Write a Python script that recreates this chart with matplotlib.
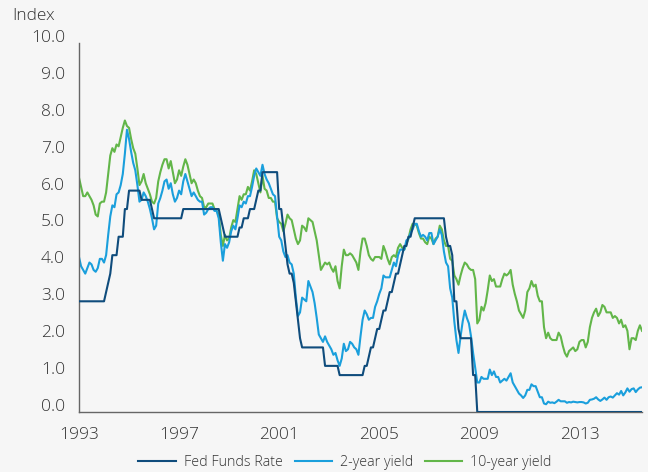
import matplotlib
matplotlib.use("Agg")
import matplotlib.pyplot as plt
import matplotlib.transforms as mtransforms
import numpy as np

# monthly values, Jan 1993 - Jul 2015
fed_funds = [
    3.00, 3.00, 3.00, 3.00, 3.00, 3.00, 3.00, 3.00, 3.00, 3.00, 3.00, 3.00,  # 1993
    3.00, 3.25, 3.50, 3.75, 4.25, 4.25, 4.25, 4.75, 4.75, 4.75, 5.50, 5.50,  # 1994
    6.00, 6.00, 6.00, 6.00, 6.00, 6.00, 5.75, 5.75, 5.75, 5.75, 5.75, 5.50,  # 1995
    5.25, 5.25, 5.25, 5.25, 5.25, 5.25, 5.25, 5.25, 5.25, 5.25, 5.25, 5.25,  # 1996
    5.25, 5.25, 5.50, 5.50, 5.50, 5.50, 5.50, 5.50, 5.50, 5.50, 5.50, 5.50,  # 1997
    5.50, 5.50, 5.50, 5.50, 5.50, 5.50, 5.50, 5.50, 5.25, 5.00, 4.75, 4.75,  # 1998
    4.75, 4.75, 4.75, 4.75, 4.75, 5.00, 5.00, 5.25, 5.25, 5.25, 5.50, 5.50,  # 1999
    5.50, 5.75, 6.00, 6.00, 6.50, 6.50, 6.50, 6.50, 6.50, 6.50, 6.50, 6.50,  # 2000
    5.50, 5.50, 5.00, 4.50, 4.00, 3.75, 3.75, 3.50, 3.00, 2.50, 2.00, 1.75,  # 2001
    1.75, 1.75, 1.75, 1.75, 1.75, 1.75, 1.75, 1.75, 1.75, 1.75, 1.25, 1.25,  # 2002
    1.25, 1.25, 1.25, 1.25, 1.25, 1.00, 1.00, 1.00, 1.00, 1.00, 1.00, 1.00,  # 2003
    1.00, 1.00, 1.00, 1.00, 1.00, 1.25, 1.25, 1.50, 1.75, 1.75, 2.00, 2.25,  # 2004
    2.25, 2.50, 2.75, 2.75, 3.00, 3.25, 3.25, 3.50, 3.75, 3.75, 4.00, 4.25,  # 2005
    4.50, 4.50, 4.75, 4.75, 5.00, 5.25, 5.25, 5.25, 5.25, 5.25, 5.25, 5.25,  # 2006
    5.25, 5.25, 5.25, 5.25, 5.25, 5.25, 5.25, 5.25, 4.75, 4.50, 4.50, 4.25,  # 2007
    3.00, 3.00, 2.25, 2.00, 2.00, 2.00, 2.00, 2.00, 2.00, 1.00, 1.00, 0.00,  # 2008
    0.00, 0.00, 0.00, 0.00, 0.00, 0.00, 0.00, 0.00, 0.00, 0.00, 0.00, 0.00,  # 2009
    0.00, 0.00, 0.00, 0.00, 0.00, 0.00, 0.00, 0.00, 0.00, 0.00, 0.00, 0.00,  # 2010
    0.00, 0.00, 0.00, 0.00, 0.00, 0.00, 0.00, 0.00, 0.00, 0.00, 0.00, 0.00,  # 2011
    0.00, 0.00, 0.00, 0.00, 0.00, 0.00, 0.00, 0.00, 0.00, 0.00, 0.00, 0.00,  # 2012
    0.00, 0.00, 0.00, 0.00, 0.00, 0.00, 0.00, 0.00, 0.00, 0.00, 0.00, 0.00,  # 2013
    0.00, 0.00, 0.00, 0.00, 0.00, 0.00, 0.00, 0.00, 0.00, 0.00, 0.00, 0.00,  # 2014
    0.00, 0.00, 0.00, 0.00, 0.00, 0.00, 0.00,                                # 2015
]

yield_2y = [
    4.20, 3.95, 3.85, 3.75, 3.90, 4.05, 4.00, 3.85, 3.80, 3.90, 4.15, 4.15,  # 1993
    4.05, 4.25, 4.80, 5.30, 5.60, 5.55, 5.90, 5.95, 6.15, 6.45, 7.00, 7.65,  # 1994
    7.40, 7.05, 6.75, 6.55, 6.15, 5.70, 5.75, 5.95, 5.85, 5.70, 5.50, 5.25,  # 1995
    4.95, 5.05, 5.65, 5.80, 6.00, 6.25, 6.30, 6.05, 6.20, 5.90, 5.70, 5.80,  # 1996
    6.00, 5.90, 6.25, 6.45, 6.25, 6.05, 5.85, 5.95, 5.85, 5.75, 5.70, 5.70,  # 1997
    5.35, 5.40, 5.50, 5.55, 5.55, 5.45, 5.45, 5.25, 4.60, 4.10, 4.55, 4.45,  # 1998
    4.60, 4.90, 5.05, 4.95, 5.25, 5.60, 5.55, 5.70, 5.65, 5.85, 5.85, 6.10,  # 1999
    6.40, 6.60, 6.50, 6.40, 6.70, 6.45, 6.30, 6.20, 6.05, 5.90, 5.85, 5.30,  # 2000
    4.75, 4.65, 4.35, 4.20, 4.25, 4.05, 4.00, 3.75, 3.10, 2.60, 2.70, 3.10,  # 2001
    3.05, 3.00, 3.55, 3.40, 3.25, 2.95, 2.55, 2.10, 2.00, 1.90, 2.05, 1.90,  # 2002
    1.80, 1.70, 1.55, 1.60, 1.40, 1.25, 1.45, 1.85, 1.65, 1.70, 1.90, 1.85,  # 2003
    1.75, 1.70, 1.55, 2.05, 2.50, 2.75, 2.65, 2.50, 2.55, 2.55, 2.85, 3.00,  # 2004
    3.20, 3.35, 3.70, 3.65, 3.65, 3.65, 3.85, 4.05, 3.95, 4.25, 4.40, 4.40,  # 2005
    4.40, 4.65, 4.70, 4.85, 4.95, 5.10, 5.10, 4.90, 4.75, 4.80, 4.75, 4.65,  # 2006
    4.85, 4.85, 4.55, 4.65, 4.75, 4.95, 4.80, 4.35, 4.05, 3.95, 3.35, 3.10,  # 2007
    2.45, 1.95, 1.60, 2.05, 2.45, 2.75, 2.55, 2.40, 2.05, 1.60, 1.20, 0.80,  # 2008
    0.80, 0.95, 0.90, 0.90, 0.90, 1.15, 1.00, 1.10, 0.95, 0.95, 0.80, 0.85,  # 2009
    0.90, 0.85, 0.95, 1.05, 0.80, 0.70, 0.60, 0.50, 0.45, 0.38, 0.45, 0.60,  # 2010
    0.60, 0.75, 0.70, 0.70, 0.55, 0.40, 0.40, 0.23, 0.21, 0.28, 0.25, 0.26,  # 2011
    0.24, 0.28, 0.33, 0.29, 0.29, 0.29, 0.25, 0.27, 0.26, 0.28, 0.27, 0.26,  # 2012
    0.27, 0.27, 0.26, 0.23, 0.25, 0.33, 0.34, 0.36, 0.40, 0.34, 0.30, 0.34,  # 2013
    0.39, 0.33, 0.40, 0.42, 0.39, 0.45, 0.51, 0.47, 0.57, 0.45, 0.53, 0.64,  # 2014
    0.55, 0.62, 0.64, 0.54, 0.61, 0.66, 0.67,                                # 2015
]

yield_10y = [
    6.35, 6.10, 5.85, 5.85, 5.95, 5.85, 5.75, 5.60, 5.35, 5.30, 5.65, 5.70,  # 1993
    5.70, 5.95, 6.45, 6.95, 7.15, 7.05, 7.25, 7.20, 7.45, 7.70, 7.90, 7.75,  # 1994
    7.70, 7.40, 7.15, 7.00, 6.60, 6.15, 6.25, 6.45, 6.20, 6.05, 5.90, 5.70,  # 1995
    5.65, 5.80, 6.25, 6.50, 6.70, 6.85, 6.85, 6.60, 6.80, 6.50, 6.20, 6.30,  # 1996
    6.55, 6.40, 6.65, 6.85, 6.70, 6.45, 6.20, 6.30, 6.20, 6.00, 5.85, 5.80,  # 1997
    5.55, 5.55, 5.65, 5.65, 5.65, 5.50, 5.45, 5.35, 4.80, 4.50, 4.80, 4.65,  # 1998
    4.70, 5.00, 5.20, 5.15, 5.50, 5.85, 5.75, 5.90, 5.90, 6.10, 6.00, 6.25,  # 1999
    6.55, 6.45, 6.20, 5.95, 6.40, 6.05, 6.00, 5.80, 5.80, 5.70, 5.70, 5.25,  # 2000
    5.15, 5.10, 4.90, 5.10, 5.35, 5.25, 5.20, 4.95, 4.70, 4.55, 4.65, 5.05,  # 2001
    5.00, 4.90, 5.25, 5.20, 5.15, 4.90, 4.65, 4.25, 3.85, 3.95, 4.05, 4.00,  # 2002
    4.05, 3.90, 3.80, 3.95, 3.55, 3.35, 3.95, 4.40, 4.25, 4.25, 4.30, 4.25,  # 2003
    4.15, 4.05, 3.85, 4.35, 4.70, 4.70, 4.50, 4.25, 4.15, 4.10, 4.20, 4.20,  # 2004
    4.20, 4.15, 4.50, 4.35, 4.15, 4.00, 4.20, 4.25, 4.20, 4.45, 4.55, 4.45,  # 2005
    4.40, 4.55, 4.70, 4.95, 5.10, 5.10, 5.05, 4.85, 4.70, 4.70, 4.60, 4.55,  # 2006
    4.75, 4.70, 4.55, 4.70, 4.75, 5.05, 4.95, 4.65, 4.50, 4.50, 4.15, 4.10,  # 2007
    3.70, 3.60, 3.45, 3.70, 3.90, 4.05, 4.00, 3.90, 3.85, 3.85, 3.60, 2.40,  # 2008
    2.50, 2.85, 2.75, 2.95, 3.30, 3.70, 3.55, 3.60, 3.40, 3.40, 3.40, 3.60,  # 2009
    3.75, 3.70, 3.75, 3.85, 3.45, 3.20, 3.00, 2.75, 2.65, 2.55, 2.75, 3.25,  # 2010
    3.35, 3.55, 3.40, 3.45, 3.15, 3.00, 3.00, 2.30, 2.00, 2.15, 2.00, 1.95,  # 2011
    1.95, 1.95, 2.15, 2.05, 1.80, 1.60, 1.50, 1.65, 1.70, 1.75, 1.65, 1.70,  # 2012
    1.90, 1.95, 1.95, 1.75, 1.90, 2.30, 2.55, 2.70, 2.80, 2.60, 2.70, 2.90,  # 2013
    2.85, 2.70, 2.70, 2.70, 2.55, 2.60, 2.55, 2.40, 2.50, 2.30, 2.35, 2.20,  # 2014
    1.70, 2.00, 2.00, 1.95, 2.20, 2.35, 2.20,                                # 2015
]

year_ticks = [1993, 1997, 2001, 2005, 2009, 2013]
y_ticks = [0, 1, 2, 3, 4, 5, 6, 7, 8, 9, 10]

months = 1993 + np.arange(len(fed_funds)) / 12.0

bg = "#f6f6f6"
text_col = "#333333"
plt.rcParams["font.family"] = ["Open Sans", "DejaVu Sans"]
plt.rcParams["font.weight"] = "light"

fig = plt.figure(figsize=(6.48, 4.72), dpi=100, facecolor=bg)
ax = fig.add_axes([79 / 648, 60 / 472, 563 / 648, 369 / 472], facecolor=bg)

ax.plot(months, fed_funds, color="#0f4c7c", lw=1.5, label="Fed Funds Rate", zorder=3)
ax.plot(months, yield_2y, color="#1a9fdc", lw=1.5, label="2-year yield", zorder=2)
ax.plot(months, yield_10y, color="#62b649", lw=1.5, label="10-year yield", zorder=1)

ax.set_xlim(1993, months[-1])
ax.set_ylim(0, 10)
ax.set_xticks(year_ticks)
ax.set_xticklabels([str(y) for y in year_ticks])
ax.set_yticks(y_ticks)
ax.set_yticklabels([f"{v:.1f}" for v in y_ticks])

for s in ["top", "right"]:
    ax.spines[s].set_visible(False)
for s in ["left", "bottom"]:
    ax.spines[s].set_color("#666666")
    ax.spines[s].set_linewidth(1.0)

ax.tick_params(axis="both", length=0, labelsize=12.5, colors=text_col)
ax.tick_params(axis="y", pad=10)
ax.tick_params(axis="x", pad=11)

# y labels sit a little above their gridline in the original
offset = mtransforms.ScaledTranslation(0, 7 / 100, fig.dpi_scale_trans)
for lab in ax.get_yticklabels():
    lab.set_transform(lab.get_transform() + offset)

fig.text(12 / 648, 1 - 16 / 472, "Index", fontsize=12.5, color=text_col,
         ha="left", va="center")

leg = fig.legend(loc="center", bbox_to_anchor=(345 / 648, 1 - 463 / 472), ncol=3,
                 frameon=False, fontsize=10.3, handlelength=2.6, handletextpad=0.55,
                 columnspacing=0.85, labelcolor=text_col)

fig.savefig("out.png", dpi=100, facecolor=bg)
